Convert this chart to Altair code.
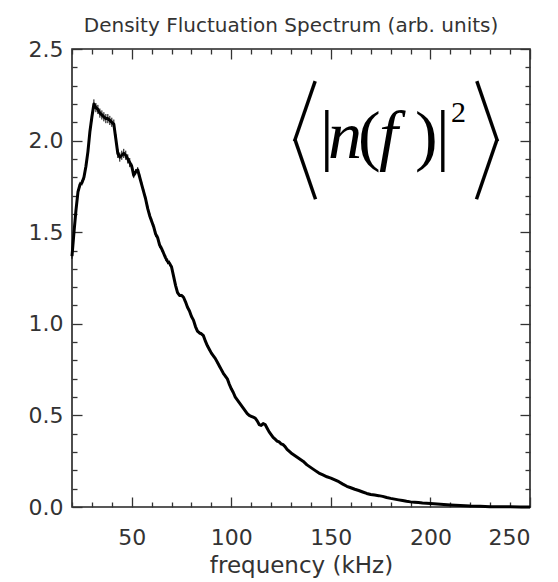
import altair as alt
import pandas as pd

# ---- data ----
freq = [20, 21, 22, 23, 24, 25, 26, 27, 28, 29, 30, 31, 32, 33, 34, 35, 36, 37, 38, 39,
        40, 41, 42, 43, 44, 45, 46, 47, 48, 49, 50, 51, 52, 53, 54, 55, 56, 57, 58, 59,
        60, 61, 62, 63, 64, 65, 66, 67, 68, 69, 70, 71, 72, 73, 74, 75, 76, 77, 78, 79,
        80, 81, 82, 83, 84, 85, 86, 87, 88, 89, 90, 91, 92, 93, 94, 95, 96, 97, 98, 99,
        100, 101, 102, 103, 104, 105, 106, 107, 108, 109, 110, 111, 112, 113, 114, 115,
        116, 117, 118, 119, 120, 121, 122, 123, 124, 125, 126, 127, 128, 129, 130,
        132, 134, 136, 138, 140, 142, 144, 146, 148, 150, 152, 154, 156, 158, 160,
        162, 164, 166, 168, 170, 172, 174, 176, 178, 180, 182, 184, 186, 188, 190,
        192, 194, 196, 198, 200, 205, 210, 215, 220, 225, 230, 235, 240, 245, 250]
power = [1.37, 1.50, 1.62, 1.72, 1.76, 1.77, 1.80, 1.86, 1.94, 2.05, 2.13, 2.20, 2.18, 2.17,
         2.15, 2.14, 2.13, 2.12, 2.12, 2.11, 2.10, 2.09, 2.01, 1.93, 1.91, 1.92, 1.93, 1.92,
         1.90, 1.88, 1.86, 1.81, 1.83, 1.84, 1.80, 1.76, 1.72, 1.68, 1.63, 1.59, 1.56, 1.53,
         1.49, 1.47, 1.43, 1.41, 1.385, 1.36, 1.34, 1.33, 1.31, 1.26, 1.21, 1.17, 1.155, 1.155,
         1.145, 1.12, 1.09, 1.07, 1.04, 1.02, 0.985, 0.96, 0.95, 0.945, 0.935, 0.905, 0.88,
         0.86, 0.84, 0.825, 0.81, 0.79, 0.77, 0.75, 0.73, 0.715, 0.70, 0.67, 0.645, 0.625,
         0.60, 0.585, 0.57, 0.555, 0.54, 0.525, 0.51, 0.50, 0.495, 0.49, 0.485, 0.47, 0.45,
         0.445, 0.455, 0.45, 0.43, 0.41, 0.395, 0.38, 0.37, 0.36, 0.355, 0.345, 0.34, 0.33,
         0.315, 0.305, 0.295, 0.28, 0.265, 0.25, 0.23, 0.215, 0.20, 0.185, 0.175, 0.165,
         0.158, 0.148, 0.138, 0.125, 0.113, 0.105, 0.097, 0.09, 0.082, 0.074, 0.068, 0.065,
         0.062, 0.058, 0.052, 0.047, 0.043, 0.039, 0.035, 0.031, 0.028, 0.026, 0.024, 0.022,
         0.021, 0.019, 0.015, 0.011, 0.008, 0.005, 0.004, 0.002, 0.001, 0.001, 0.0, 0.0]
err = ([0.015] * 9 + [0.025] * 21 + [0.015] * 20 + [0.008] * 30 + [0.004] * 35
       + [0.002] * (len(freq) - 115))

x_major = [50, 100, 150, 200, 250]
x_minor = [20, 30, 40, 60, 70, 80, 90, 110, 120, 130, 140, 160, 170, 180, 190, 210, 220, 230, 240]
y_major = [0.0, 0.5, 1.0, 1.5, 2.0, 2.5]
y_minor = [0.1, 0.2, 0.3, 0.4, 0.6, 0.7, 0.8, 0.9, 1.1, 1.2, 1.3, 1.4, 1.6, 1.7, 1.8, 1.9,
           2.1, 2.2, 2.3, 2.4]

# formula annotation <|n(f)|^2>
ann_upright_text = ["|", "(", ")", "|"]
ann_upright_x = [144.5, 163.6, 192.3, 202.8]
ann_italic_text = ["n", "f"]
ann_italic_x = [148.6, 174.2]
ann_base_y = 1.905
ann_sup_text = ["2"]
ann_sup_x = [210.3]
ann_sup_y = 2.102
# angle brackets built from two slanted strokes each
ann_br_text = ["|", "|", "|", "|"]
ann_br_x = [137.0, 137.0, 228.4, 228.4]
ann_br_y = [2.162, 1.845, 2.162, 1.845]
ann_br_angle = [19, 341, 341, 19]

df = pd.DataFrame({"freq": freq, "power": power, "err": err})

FONT = "DejaVu Sans"
INK = "#333333"
xs = alt.Scale(domain=[20, 250], nice=False, zero=False)
ys = alt.Scale(domain=[0, 2.5], nice=False)

base = alt.Chart(df)

main = base.mark_line(color="black", strokeWidth=3, strokeJoin="round").encode(
    x=alt.X("freq:Q", scale=xs, axis=alt.Axis(
        orient="bottom", values=x_major, ticks=False, tickSize=0, domain=False, grid=False,
        labelFont=FONT, labelFontSize=22, labelColor=INK, labelPadding=20,
        title="frequency (kHz)", titleFont=FONT, titleFontSize=23, titleFontWeight="normal",
        titleColor=INK, titlePadding=6)),
    y=alt.Y("power:Q", scale=ys, axis=alt.Axis(
        orient="left", values=y_major, format=".1f", ticks=False, tickSize=0, domain=False,
        grid=False, labelFont=FONT, labelFontSize=22, labelColor=INK, labelPadding=9,
        title=None)),
)

ebars = base.transform_calculate(
    lo="datum.power - datum.err", hi="datum.power + datum.err"
).mark_rule(color="black", strokeWidth=1).encode(
    x=alt.X("freq:Q", scale=xs, axis=None),
    y=alt.Y("lo:Q", scale=ys, axis=None),
    y2="hi:Q",
)


def tick_axis(orient, values, size):
    return alt.Axis(orient=orient, values=values, labels=False, domain=False, grid=False,
                    ticks=True, tickSize=size, offset=-size, title=None,
                    tickColor=INK, tickWidth=1.3)


def tick_layer(xo, yo, xv, yv, size):
    return base.mark_line(strokeOpacity=0).encode(
        x=alt.X("freq:Q", scale=xs, axis=tick_axis(xo, xv, size)),
        y=alt.Y("power:Q", scale=ys, axis=tick_axis(yo, yv, size)),
    )


tl1 = tick_layer("bottom", "left", x_major, y_major, 10)
tl2 = tick_layer("bottom", "left", x_minor, y_minor, 5)
tl3 = tick_layer("top", "right", x_major, y_major, 10)
tl4 = tick_layer("top", "right", x_minor, y_minor, 5)

up_df = pd.DataFrame({"t": ann_upright_text, "x": ann_upright_x, "y": ann_base_y})
it_df = pd.DataFrame({"t": ann_italic_text, "x": ann_italic_x, "y": ann_base_y})
sup_df = pd.DataFrame({"t": ann_sup_text, "x": ann_sup_x, "y": ann_sup_y})
br_df = pd.DataFrame({"t": ann_br_text, "x": ann_br_x, "y": ann_br_y, "a": ann_br_angle})


def text_layer(d, align="left", **kw):
    return alt.Chart(d).mark_text(align=align, color="black", **kw).encode(
        x=alt.X("x:Q", scale=xs, axis=None),
        y=alt.Y("y:Q", scale=ys, axis=None),
        text="t:N",
    )


t_up = text_layer(up_df, font="Liberation Serif", fontSize=68, baseline="alphabetic")
t_it = text_layer(it_df, font="Liberation Serif", fontSize=68, fontStyle="italic",
                  baseline="alphabetic")
t_sup = text_layer(sup_df, font="Liberation Serif", fontSize=30, baseline="alphabetic")
t_br = alt.Chart(br_df).mark_text(
    align="center", baseline="alphabetic", color="black", font="Liberation Serif",
    fontSize=70, dy=17
).encode(
    x=alt.X("x:Q", scale=xs, axis=None),
    y=alt.Y("y:Q", scale=ys, axis=None),
    text="t:N",
    angle=alt.Angle("a:Q", scale=None),
)

chart = alt.layer(
    tl1, tl2, tl3, tl4, main, ebars, t_up, t_it, t_sup, t_br
).resolve_axis(x="independent", y="independent").properties(
    width=458, height=458,
    padding={"left": 72, "top": 49, "right": 28, "bottom": 75},
    autosize=alt.AutoSizeParams(type="none"),
    title=alt.TitleParams("Density Fluctuation Spectrum (arb. units)", font=FONT, fontSize=20,
                          fontWeight="normal", color=INK, anchor="middle", dx=-10,
                          frame="group", offset=2),
).configure_view(stroke="#222222", strokeWidth=1.6)

chart.save("out.html", embed_options={"renderer": "svg", "actions": False})
